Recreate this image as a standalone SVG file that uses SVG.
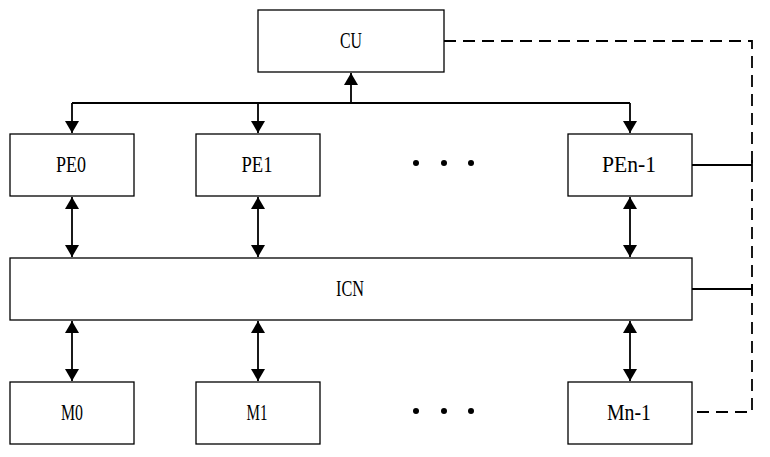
<svg xmlns="http://www.w3.org/2000/svg" width="770" height="457" viewBox="0 0 770 457">
  <style>
    .box { fill: #fff; stroke: #000; stroke-width: 1.3; }
    .lbl { font-family: "Liberation Serif", "DejaVu Serif", serif; font-size: 23px; fill: #000; text-anchor: middle; dominant-baseline: central; }
    .wire { fill: none; stroke: #000; stroke-width: 1.8; }
    .arr { fill: none; stroke: #000; stroke-width: 1.8; marker-end: url(#head); }
    .bi { fill: none; stroke: #000; stroke-width: 1.8; marker-start: url(#headS); marker-end: url(#head); }
    .ctl { fill: none; stroke: #000; stroke-width: 1.8; stroke-dasharray: 12 7; }
    .dot { fill: #000; }
  </style>
  <defs>
    <marker id="head" viewBox="0 0 12 14" refX="12" refY="7" markerWidth="12" markerHeight="14" markerUnits="userSpaceOnUse" orient="auto">
      <path d="M0,0 L12,7 L0,14 Z" fill="#000"/>
    </marker>
    <marker id="headS" viewBox="0 0 12 14" refX="0" refY="7" markerWidth="12" markerHeight="14" markerUnits="userSpaceOnUse" orient="auto">
      <path d="M12,0 L0,7 L12,14 Z" fill="#000"/>
    </marker>
  </defs>

  <!-- connectors -->
  <g id="connectors">
    <!-- CU bus -->
    <path class="wire" d="M72,103 H630"/>
    <path class="arr" d="M351,103 V73"/>
    <path class="arr" d="M72,103 V133"/>
    <path class="arr" d="M258,103 V133"/>
    <path class="arr" d="M630,103 V133"/>
    <!-- PE <-> ICN -->
    <path class="bi" d="M72,197 V257"/>
    <path class="bi" d="M258,197 V257"/>
    <path class="bi" d="M630,197 V257"/>
    <!-- ICN <-> M -->
    <path class="bi" d="M72,321 V381"/>
    <path class="bi" d="M258,321 V381"/>
    <path class="bi" d="M630,321 V381"/>
    <!-- control line -->
    <path class="ctl" d="M444,41 H752 V412 H692"/>
    <path class="wire" d="M692,165 H752 M752,160 V170"/>
    <path class="wire" d="M692,289 H752 M752,284 V294"/>
  </g>

  <g id="cu"><rect class="box" x="258" y="10" width="186" height="62"/><text class="lbl" x="351" y="40" textLength="22" lengthAdjust="spacingAndGlyphs">CU</text></g>
  <g id="pe0"><rect class="box" x="10" y="134" width="124" height="62"/><text class="lbl" x="71" y="164" textLength="30" lengthAdjust="spacingAndGlyphs">PE0</text></g>
  <g id="pe1"><rect class="box" x="196" y="134" width="124" height="62"/><text class="lbl" x="257" y="164" textLength="31" lengthAdjust="spacingAndGlyphs">PE1</text></g>
  <g id="pe-dots"><circle class="dot" cx="416" cy="163" r="3"/><circle class="dot" cx="444" cy="163" r="3"/><circle class="dot" cx="471" cy="163" r="3"/></g>
  <g id="pen1"><rect class="box" x="568" y="134" width="124" height="62"/><text class="lbl" x="629" y="164" textLength="54" lengthAdjust="spacingAndGlyphs">PEn-1</text></g>
  <g id="icn"><rect class="box" x="10" y="258" width="682" height="62"/><text class="lbl" x="350" y="288" textLength="28" lengthAdjust="spacingAndGlyphs">ICN</text></g>
  <g id="m0"><rect class="box" x="10" y="382" width="124" height="62"/><text class="lbl" x="72" y="412" textLength="22" lengthAdjust="spacingAndGlyphs">M0</text></g>
  <g id="m1"><rect class="box" x="196" y="382" width="124" height="62"/><text class="lbl" x="257" y="412" textLength="21" lengthAdjust="spacingAndGlyphs">M1</text></g>
  <g id="m-dots"><circle class="dot" cx="416" cy="411" r="3"/><circle class="dot" cx="444" cy="411" r="3"/><circle class="dot" cx="471" cy="411" r="3"/></g>
  <g id="mn1"><rect class="box" x="568" y="382" width="124" height="62"/><text class="lbl" x="629" y="412" textLength="44" lengthAdjust="spacingAndGlyphs">Mn-1</text></g>
</svg>
